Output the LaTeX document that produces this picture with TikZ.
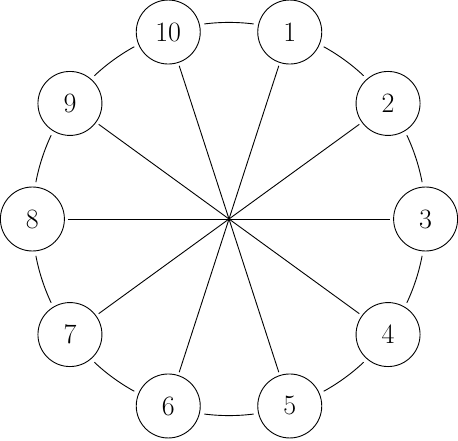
\documentclass[tikz,border=0pt]{standalone}
\usetikzlibrary{calc}
\begin{document}
\begin{tikzpicture}[x=1pt,y=1pt,
  vert/.style={draw,circle,minimum size=64pt,inner sep=0pt,outer sep=3.5pt,line width=0.9pt,font=\fontsize{28}{34}\selectfont},
  edge/.style={line width=0.9pt}]
\useasboundingbox (0,0) rectangle (458,440);
\coordinate (c) at (229,221);
\foreach \k in {1,...,10}{
  \pgfmathsetmacro{\ang}{108-36*\k}
  \node[vert] (n\k) at ($(c)+(\ang:196.6)$) {\k};
}
\foreach \k in {1,...,10}{
  \draw[edge] (n\k) -- (c);
  \pgfmathsetmacro{\sa}{108-36*\k-36+10.8}
  \pgfmathsetmacro{\ea}{108-36*\k-10.8}
  \draw[edge] ($(c)+(\sa:196.6)$) arc[start angle=\sa, end angle=\ea, radius=196.6];
}
\end{tikzpicture}
\end{document}
